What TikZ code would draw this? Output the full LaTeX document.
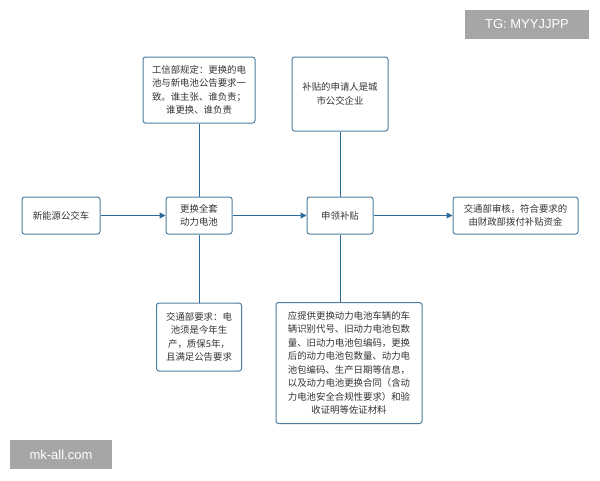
\documentclass[tikz,border=0pt]{standalone}
\usepackage{fontspec}
\setmainfont{Noto Sans CJK SC}
\newfontfamily\wmfont{Liberation Sans}
\usetikzlibrary{arrows.meta}
\definecolor{boxline}{HTML}{4F7FA0}
\definecolor{conn}{HTML}{2C6C9C}
\definecolor{txt}{HTML}{333333}
\definecolor{wm}{HTML}{A6A6A6}
\begin{document}
\begin{tikzpicture}[x=1pt,y=-1pt,
  box/.style={draw=boxline,line width=1pt,rounded corners=2.5pt,fill=white,
    text=txt,font=\fontsize{9.4}{13.5}\selectfont,align=center,inner sep=0pt},
  link/.style={draw=conn,line width=1pt},
  arr/.style={link,-{Triangle[length=6pt,width=6pt]}},
  wmbox/.style={fill=wm,text=white,font=\wmfont\fontsize{13}{15}\selectfont,inner sep=0pt}]
\useasboundingbox (0,0) rectangle (600,480);
\fill[white] (0,0) rectangle (600,480);
\node[box,minimum width=78pt,minimum height=37pt] (bus) at (61,215.5) {新能源公交车};
\node[box,minimum width=66pt,minimum height=37pt] (swap) at (199,215.5) {更换全套\\动力电池};
\node[box,minimum width=66pt,minimum height=37pt] (apply) at (340,215.5) {申领补贴};
\node[box,minimum width=125pt,minimum height=37pt] (audit) at (515.5,215.5) {交通部审核，符合要求的\\由财政部拨付补贴资金};
\node[box,minimum width=112pt,minimum height=66pt] (miit) at (199,90) {工信部规定：更换的电\\池与新电池公告要求一\\致。谁主张、谁负责；\\谁更换、谁负责};
\node[box,minimum width=96pt,minimum height=74pt] (who) at (340,94) {补贴的申请人是城\\市公交企业};
\node[box,minimum width=85pt,minimum height=68pt] (motreq) at (199,337) {交通部要求：电\\池须是今年生\\产，质保5年，\\且满足公告要求};
\node[box,minimum width=146pt,minimum height=121pt] (docs) at (349,363) {应提供更换动力电池车辆的车\\辆识别代号、旧动力电池包数\\量、旧动力电池包编码，更换\\后的动力电池包数量、动力电\\池包编码、生产日期等信息，\\以及动力电池更换合同（含动\\力电池安全合规性要求）和验\\收证明等佐证材料};
\draw[arr] (bus) -- (swap);
\draw[arr] (swap) -- (apply);
\draw[arr] (apply) -- (audit);
\draw[link] (miit) -- (swap);
\draw[link] (swap) -- (motreq);
\draw[link] (who) -- (apply);
\draw[link] (apply.south) -- (apply.south |- docs.north);
\node[wmbox,minimum width=124pt,minimum height=29pt] (tg) at (527,24.5) {TG: MYYJJPP};
\node[wmbox,minimum width=102pt,minimum height=29pt] (mk) at (61,454.5) {mk-all.com};
\end{tikzpicture}
\end{document}
